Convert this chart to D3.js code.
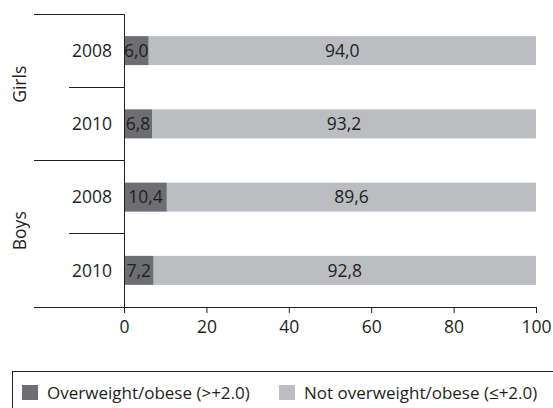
<!DOCTYPE html>
<html><head><meta charset="utf-8">
<script src="https://cdn.jsdelivr.net/npm/d3@7"></script>
<style>body{margin:0;background:#fff}svg{display:block}text{font-family:"Open Sans",sans-serif;fill:#231f20}</style>
</head><body>
<svg id="c" width="553" height="408"></svg>
<script>
const groups = ["Girls", "Boys"];
const years = ["2008", "2010"];
const rows = [["Girls","2008"],["Girls","2010"],["Boys","2008"],["Boys","2010"]];
const overweight = [6.0, 6.8, 10.4, 7.2];
const notOverweight = [94.0, 93.2, 89.6, 92.8];
const xTicks = [0, 20, 40, 60, 80, 100];
const seriesNames = ["Overweight/obese (>+2.0)", "Not overweight/obese (≤+2.0)"];
const colors = ["#6d6e71", "#bcbdc0"];

const svg = d3.select("#c");
const fmt = v => v.toFixed(1).replace(".", ",");
const x = d3.scaleLinear().domain([0, 100]).range([124, 536]);
const y = d3.scaleBand().domain(rows.map((r,i)=>i)).range([14, 307]).padding(0);
const bh = 29;
const fs = 17.5;

// bars
rows.forEach((r, i) => {
  const yc = y(i) + y.bandwidth()/2;
  const a = overweight[i], b = notOverweight[i];
  svg.append("rect").attr("x", x(0)).attr("y", yc - bh/2).attr("width", x(a)-x(0)).attr("height", bh).attr("fill", colors[0]);
  svg.append("rect").attr("x", x(a)).attr("y", yc - bh/2).attr("width", x(a+b)-x(a)).attr("height", bh).attr("fill", colors[1]);
  svg.append("text").attr("x", (x(0)+x(a))/2).attr("y", yc).attr("dy","0.36em").attr("text-anchor","middle").attr("font-size", fs).text(fmt(a));
  svg.append("text").attr("x", (x(a)+x(a+b))/2).attr("y", yc).attr("dy","0.36em").attr("text-anchor","middle").attr("font-size", fs).text(fmt(b));
  svg.append("text").attr("x", 112).attr("y", yc).attr("dy","0.36em").attr("text-anchor","end").attr("font-size", fs).text(r[1]);
});

// separators
const line = (x1,y1,x2,y2) => svg.append("line").attr("x1",x1).attr("y1",y1).attr("x2",x2).attr("y2",y2).attr("stroke","#231f20").attr("stroke-width",1).attr("shape-rendering","crispEdges");
line(34, y(0), 124, y(0));
line(69, y(1), 124, y(1));
line(34, y(2), 124, y(2));
line(69, y(3), 124, y(3));
line(124, y(0), 124, 307);

// group labels
groups.forEach((g, gi) => {
  const yc = y(gi*2) + y.bandwidth() - 3;
  svg.append("text").attr("transform", `translate(20,${yc}) rotate(-90)`).attr("dy","0.36em").attr("text-anchor","middle").attr("font-size", fs).text(g);
});

// x axis
const ax = svg.append("g").attr("transform","translate(0,307)")
  .call(d3.axisBottom(x).tickValues(xTicks).tickSize(6).tickPadding(8).tickFormat(d3.format("d")));
ax.select(".domain").remove();
ax.selectAll(".tick line").attr("stroke","#231f20");
ax.selectAll("text").attr("font-size", fs).attr("font-family","Open Sans").attr("fill","#231f20");
line(34, 307, 536, 307);

// legend
svg.append("rect").attr("x",12.5).attr("y",371.5).attr("width",560).attr("height",60).attr("fill","none").attr("stroke","#231f20");
const lx = [22, 279];
seriesNames.forEach((s,i) => {
  svg.append("rect").attr("x", lx[i]).attr("y", 385).attr("width", 16).attr("height", 15).attr("fill", colors[i]);
  svg.append("text").attr("x", lx[i]+25).attr("y", 392.5).attr("dy","0.36em").attr("font-size", 17).text(s);
});
</script>
</body></html>
